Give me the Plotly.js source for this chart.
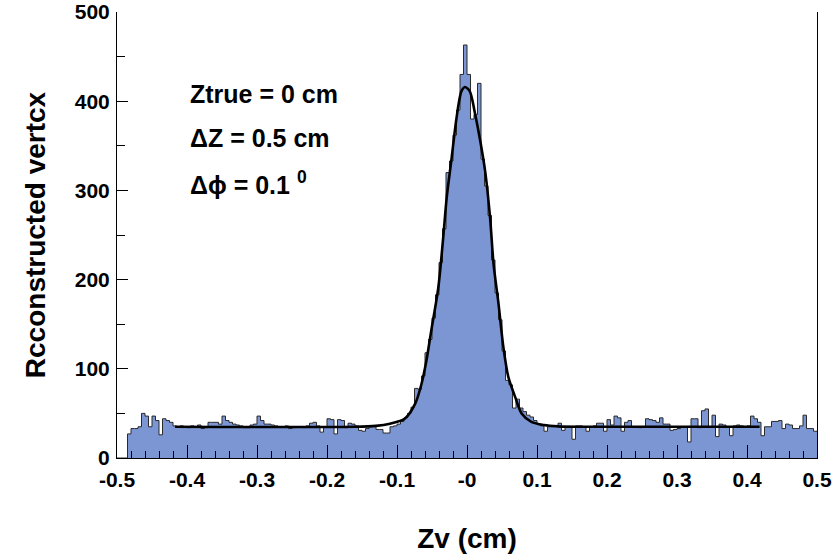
<!DOCTYPE html>
<html><head><meta charset="utf-8">
<script src="https://cdn.plot.ly/plotly-3.0.1.min.js"></script>
<style>body{margin:0;background:#fff}</style>
</head><body><div id="chart" style="width:833px;height:557px"></div>
<script>
// Histogram: 200 bins of width 0.005 from -0.5 to 0.5
const binLow = -0.5;
const binWidth = 0.005;
const counts = [
  0, 0, 0, 27, 33, 33, 35, 50, 47, 35,
  47, 42, 26, 44, 42, 40, 36, 35, 36, 35,
  34, 36, 35, 37, 33, 34, 40, 40, 40, 38,
  47, 42, 40, 38, 37, 36, 34, 34, 37, 38,
  47, 42, 38, 38, 37, 36, 35, 35, 36, 33,
  34, 35, 35, 34, 36, 39, 40, 36, 29, 35,
  44, 43, 27, 43, 42, 34, 39, 38, 36, 31,
  30, 33, 35, 36, 32, 32, 28, 28, 35, 36,
  38, 41, 45, 50, 57, 78, 77, 92, 118, 133,
  157, 183, 219, 257, 320, 333, 362, 390, 430, 463,
  430, 380, 385, 420, 335, 305, 272, 222, 185, 155,
  120, 87, 82, 56, 66, 56, 52, 48, 46, 42,
  38, 36, 30, 35, 35, 36, 39, 31, 35, 35,
  21, 36, 36, 35, 30, 35, 36, 39, 39, 30,
  43, 37, 47, 45, 30, 40, 42, 35, 35, 34,
  35, 44, 43, 42, 40, 45, 38, 38, 31, 32,
  33, 35, 35, 18, 44, 44, 34, 53, 55, 35,
  48, 24, 38, 37, 35, 25, 36, 37, 36, 35,
  36, 47, 44, 40, 25, 35, 35, 41, 41, 42,
  33, 38, 37, 33, 33, 36, 48, 33, 33, 30
];
// Fit curve (gaus + const) points
const fitX = [-0.417, -0.16, -0.13, -0.11, -0.089, -0.074, -0.065, -0.058, -0.051, -0.041, -0.034, -0.029, -0.022, -0.015, -0.008, -0.003, 0.004, 0.011, 0.019, 0.026, 0.033, 0.038, 0.045, 0.052, 0.059, 0.069, 0.078, 0.092, 0.11, 0.13, 0.16, 0.418];
const fitY = [35, 35, 36, 38.5, 44, 61, 83, 109, 143, 191, 247, 292, 336, 381, 411, 416, 411, 388, 355, 321, 269, 217, 173, 124, 91, 68, 50, 40.5, 37, 35.5, 35, 35];
const xTickVals = [-0.5, -0.4, -0.3, -0.2, -0.1, 0, 0.1, 0.2, 0.3, 0.4, 0.5];
const xTickText = ['-0.5', '-0.4', '-0.3', '-0.2', '-0.1', '-0', '0.1', '0.2', '0.3', '0.4', '0.5'];
const yTickVals = [0, 100, 200, 300, 400, 500];
const yTickText = ['0', '100', '200', '300', '400', '500'];
const labels = ['Ztrue = 0 cm', '\u0394Z = 0.5 cm', '\u0394\u03d5 = 0.1 <sup>0</sup>'];

const edges = [], stepY = [];
for (let i = 0; i < counts.length; i++) { edges.push(binLow + i * binWidth); stepY.push(counts[i]); }
edges.push(binLow + counts.length * binWidth); stepY.push(counts[counts.length - 1]);

const FONT = 'Liberation Sans, Arial, Helvetica, sans-serif';

const traces = [
  {x: edges, y: stepY, type: 'scatter', mode: 'lines', line: {shape: 'hv', color: '#2a2a2a', width: 1},
   fill: 'tozeroy', fillcolor: '#7b96d2', hoverinfo: 'skip'},
  {x: fitX, y: fitY, type: 'scatter', mode: 'lines', line: {shape: 'spline', smoothing: 0.8, color: '#000', width: 2.6}, hoverinfo: 'skip'}
];

const annY = [0.817, 0.7165, 0.616];
const annotations = labels.map((t, i) => ({
  text: t, xref: 'paper', yref: 'paper', x: 0.101, y: annY[i], xanchor: 'left', yanchor: 'middle',
  showarrow: false, font: {family: FONT, size: 25, weight: 700, color: '#000'}
}));

const layout = {
  width: 833, height: 557,
  margin: {l: 117, r: 16, t: 12, b: 99},
  paper_bgcolor: '#fff', plot_bgcolor: '#fff',
  showlegend: false,
  font: {family: FONT, color: '#000'},
  xaxis: {
    range: [-0.5, 0.5], tickmode: 'array', tickvals: xTickVals, ticktext: xTickText,
    ticks: 'inside', ticklen: 13, tickwidth: 1, tickcolor: '#000',
    showline: true, linecolor: '#000', linewidth: 1, showgrid: false, zeroline: false,
    minor: {dtick: 0.02, tick0: 0, ticks: 'inside', ticklen: 7, tickcolor: '#000', showgrid: false},
    tickfont: {family: FONT, size: 21, weight: 700}, ticklabeloverflow: 'allow', ticklabelstandoff: 3,
    title: {text: 'Zv (cm)', font: {family: FONT, size: 28, weight: 700}, standoff: 38}
  },
  yaxis: {
    range: [0, 500], tickmode: 'array', tickvals: yTickVals, ticktext: yTickText,
    ticks: 'inside', ticklen: 11, tickwidth: 1, tickcolor: '#000',
    showline: true, mirror: true, linecolor: '#000', linewidth: 1, showgrid: false, zeroline: false,
    minor: {dtick: 50, tick0: 0, ticks: 'inside', ticklen: 8, tickcolor: '#000', showgrid: false},
    tickfont: {family: FONT, size: 21, weight: 700}, ticklabelstandoff: 2, ticklabeloverflow: 'allow',
    title: {text: 'Rcconstructed vertcx', font: {family: FONT, size: 28, weight: 700}, standoff: 20}
  },
  annotations: annotations
};

Plotly.newPlot('chart', traces, layout, {staticPlot: true, displayModeBar: false});
</script>
</body></html>
